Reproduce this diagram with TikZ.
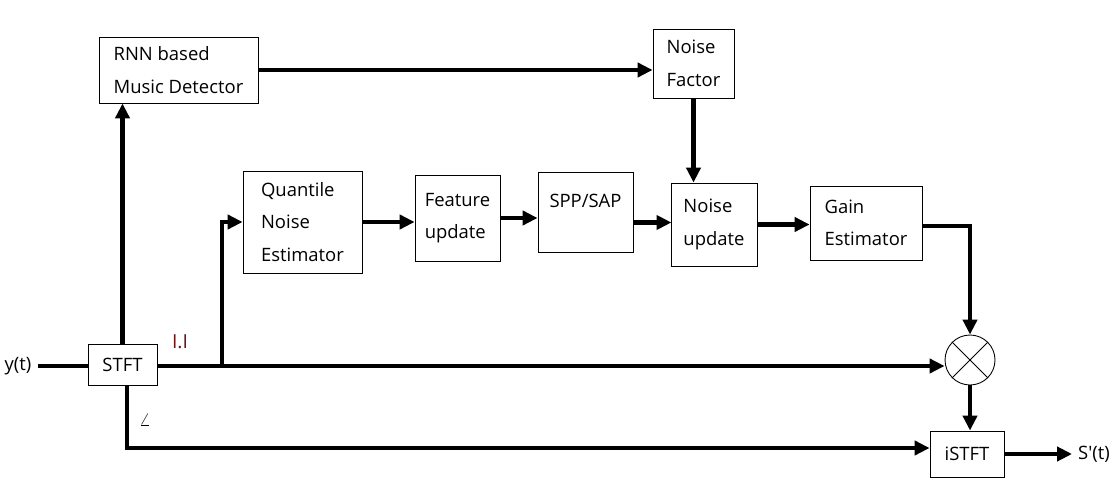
\documentclass[tikz,border=0pt]{standalone}
\usepackage{fontspec}
\setmainfont{Open Sans}
\usepackage{xcolor}
\usepackage{tikz}
\usetikzlibrary{arrows.meta}

\definecolor{absred}{RGB}{110,20,20}

\begin{document}
\begin{tikzpicture}[x=0.02cm, y=-0.02cm,
    blockbox/.style={draw, line width=0.5pt, align=left, inner sep=0pt,
      font=\fontsize{10.5}{18.5}\selectfont},
    sig/.style={line width=2.3pt},
    sigarrow/.style={sig, -{Triangle[length=8.5pt, width=8pt]}}]
  \useasboundingbox (0,0) rectangle (1114,489);

  % blocks
  \node[blockbox, minimum width=3.18cm, minimum height=1.32cm] (rnn) at (178.5,70) {RNN based\\Music Detector};
  \node[blockbox, minimum width=1.62cm, minimum height=1.38cm] (nfac) at (693.5,63.5) {Noise\\Factor};
  \node[blockbox, minimum width=2.38cm, minimum height=2.04cm] (qne) at (302.5,222) {Quantile\\Noise\\Estimator};
  \node[blockbox, minimum width=1.70cm, minimum height=1.72cm] (feat) at (457.5,218) {Feature\\update};
  \node[blockbox, minimum width=1.90cm, minimum height=1.60cm] (spp) at (585.5,212) {\raisebox{0.22cm}[\height][\depth]{SPP/SAP}};
  \node[blockbox, minimum width=1.72cm, minimum height=1.66cm] (nupd) at (714,224.5) {Noise\\update};
  \node[blockbox, minimum width=2.24cm, minimum height=1.48cm] (gain) at (866,223) {Gain\\Estimator};
  \node[blockbox, minimum width=1.38cm, minimum height=0.82cm] (stft) at (122.5,364.5) {STFT};
  \node[blockbox, minimum width=1.48cm, minimum height=0.92cm] (istft) at (967,454) {iSTFT};
  \node[draw, line width=0.5pt, circle, minimum size=1.0cm, inner sep=0pt] (mul) at (970,360) {};
  \draw[line width=0.5pt] (mul.north west) -- (mul.south east) (mul.north east) -- (mul.south west);

  % inputs, outputs and labels
  \node[font=\fontsize{10.5}{12}\selectfont] (yin) at (18,366) {y(t)};
  \node[font=\fontsize{10.5}{12}\selectfont, anchor=west] (sout) at (1072,454) {S\textquotesingle(t)};
  \node[font=\fontsize{11}{12}\selectfont, text=absred] (absl) at (180,342) {I.I};
  \node (angl) at (145,420) {$\angle$};
  \coordinate (branch) at (222,366);
  \coordinate (gcorner) at (970,226);
  \coordinate (pcorner) at (127,448);

  % connectors
  \draw[sig] (yin.east |- branch) -- (stft.west |- branch);
  \draw[sigarrow] (stft.north) -- (rnn.south -| stft.north);
  \draw[sigarrow] (rnn.east) -- (rnn.east -| nfac.west);
  \draw[sigarrow] (nfac.south) -- (nupd.north -| nfac.south);
  \draw[sigarrow] (stft.east |- branch) -- (branch -| mul.west);
  \draw[sigarrow] (branch) |- (qne.west);
  \draw[sigarrow] (qne.east) -- (qne.east -| feat.west);
  \draw[sigarrow] (feat.east) -- (feat.east -| spp.west);
  \draw[sigarrow] (spp.east |- nupd.west) ++(0,-2) -- ++(38,0);
  \draw[sigarrow] (nupd.east) -- (nupd.east -| gain.west);
  \draw[sigarrow] (gain.east |- gcorner) -- (gcorner) -- (mul.north);
  \draw[sigarrow] (mul.south) -- (istft.north -| mul.south);
  \draw[sigarrow] (stft.south -| pcorner) -- (pcorner) -- (pcorner -| istft.west);
  \draw[sigarrow] (istft.east) -- (sout.west);
\end{tikzpicture}
\end{document}
